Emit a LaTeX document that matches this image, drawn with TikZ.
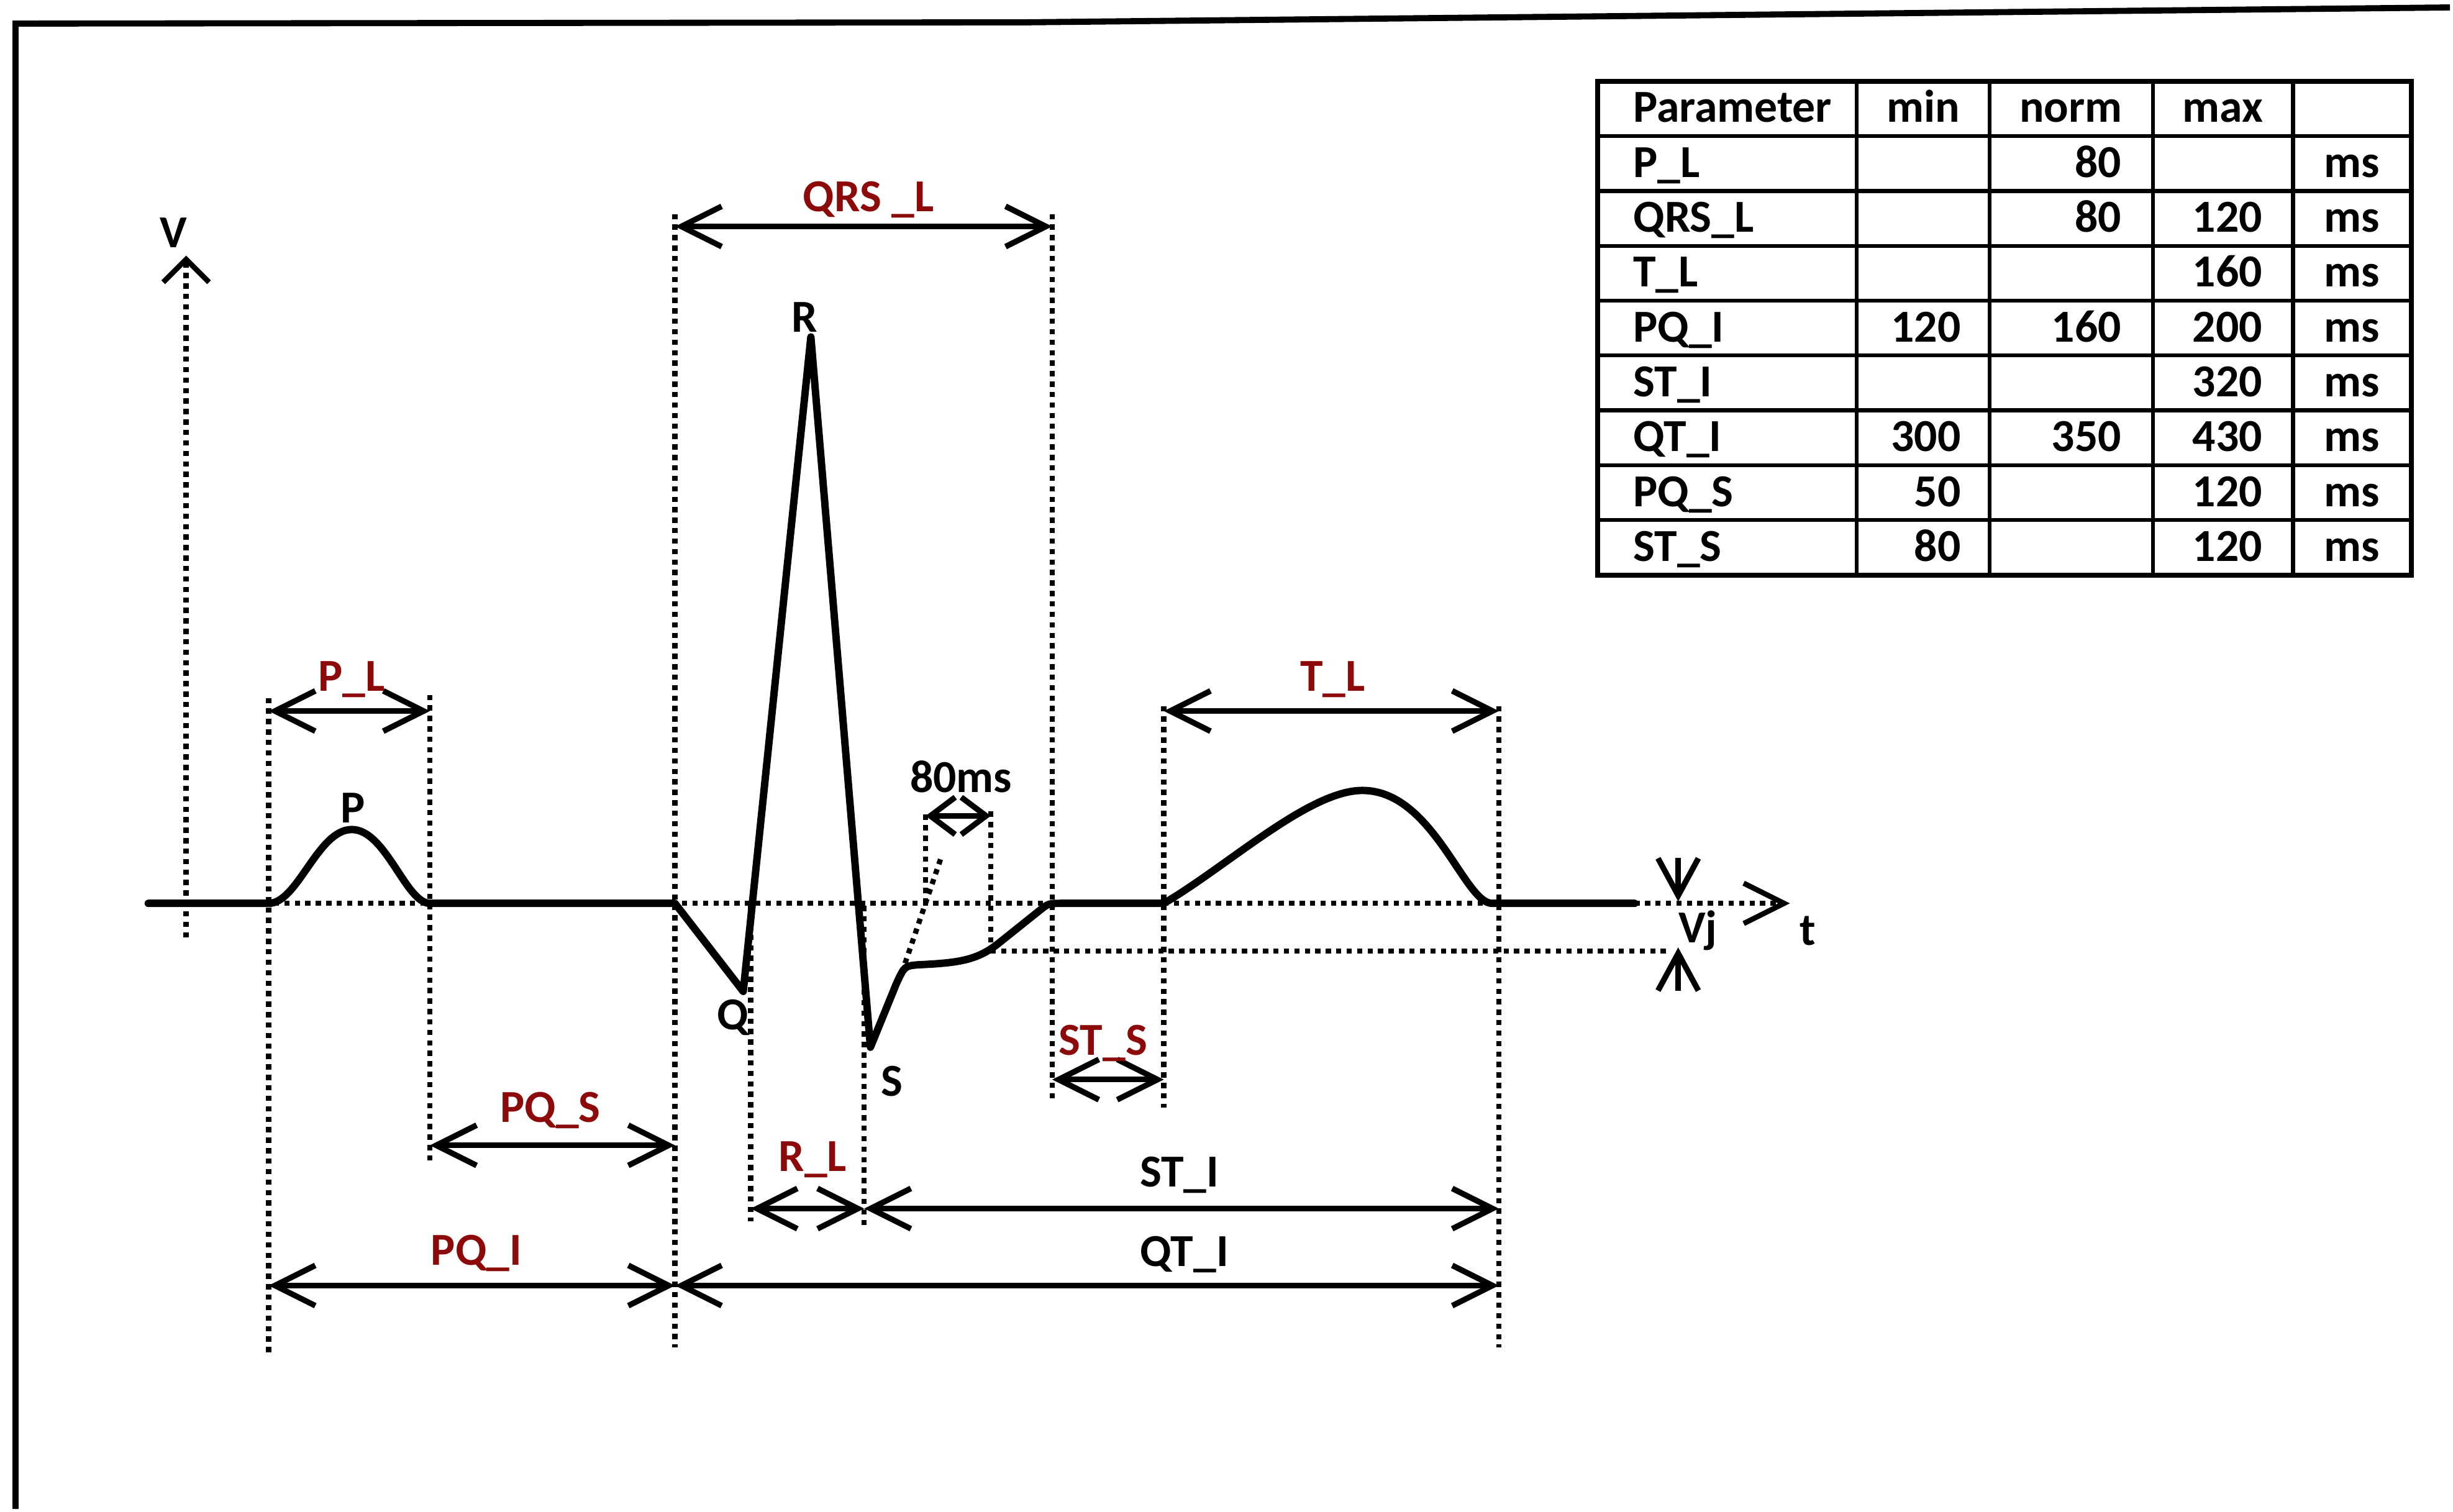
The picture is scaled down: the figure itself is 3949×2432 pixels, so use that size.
\documentclass[tikz,border=0pt]{standalone}
\usepackage{fontspec}
\setmainfont{Carlito}
\usepackage{tikz}
\usetikzlibrary{arrows.meta,calc}
\definecolor{lblred}{HTML}{8C0A0A}
\tikzset{
  pageframe/.style={line width=2.8pt},
  tabline/.style={line width=1.8pt},
  wave/.style={line width=3.4pt,line join=round,line cap=round},
  guide/.style={line width=2.4pt,dash pattern=on 2.4pt off 2.4pt},
  dim/.style={{Straight Barb[length=6.5mm,width=6.5mm]}-{Straight Barb[length=6.5mm,width=6.5mm]},line width=2.6pt},
  dimsmall/.style={{Straight Barb[length=4mm,width=6mm]}-{Straight Barb[length=4mm,width=6mm]},line width=2.6pt},
  axisarr/.style={-{Straight Barb[length=6mm,width=6.5mm]},line width=2.6pt},
  lbl/.style={font=\fontsize{21}{25}\selectfont\bfseries,inner sep=1pt},
  lblr/.style={lbl,text=lblred},
  cell/.style={font=\fontsize{21}{25}\selectfont\bfseries,inner sep=0pt,text height=1.45ex,text depth=.35ex},
}
\begin{document}
\begin{tikzpicture}[x=0.1mm,y=-0.1mm]
  \path[fill=white] (0,0) rectangle (3949,2432);
  \draw[pageframe] (25,2432) -- (25,38) -- (1650,36) -- (3949,12);

  % parameter table
  \foreach \r in {0,...,9} \draw[tabline] (2575,{131+88.4*\r}) -- (3887,{131+88.4*\r});
  \foreach \x in {2575,2993,3207,3470,3696,3887} \draw[tabline] (\x,131) -- (\x,927);
  \draw[line width=2.4pt] (2575,131) rectangle (3887,927);
  \node[cell,anchor=west] (hpar) at (2632,188) {Parameter};
  \node[cell] (hmin) at (3100,188) {min};
  \node[cell] (hnorm) at (3338,188) {norm};
  \node[cell] (hmax) at (3583,188) {max};
  \foreach \p/\mn/\nm/\mx [count=\r] in {P\_L/{}/80/{},QRS\_L/{}/80/120,T\_L/{}/{}/160,
      PQ\_I/120/160/200,ST\_I/{}/{}/320,QT\_I/300/350/430,PQ\_S/50/{}/120,ST\_S/80/{}/120}{
    \node[cell,anchor=west] (par\r) at (2632,{188+88.4*\r}) {\p};
    \node[cell,anchor=east] (min\r) at (3161,{188+88.4*\r}) {\mn};
    \node[cell,anchor=east] (norm\r) at (3420,{188+88.4*\r}) {\nm};
    \node[cell,anchor=east] (max\r) at (3647,{188+88.4*\r}) {\mx};
    \node[cell] (unit\r) at (3791,{188+88.4*\r}) {ms};
  }

  % guide lines
  \foreach \x/\a/\b in {433/1125/2180,693/1120/1870,1088/345/2172,1210/1456/1968,1393/1460/1978,
      1492/1313/1456,1597/1308/1533,1696/345/1775,1876/1138/1785,2416/1138/2172}
    \draw[guide] (\x,\a) -- (\x,\b);
  \draw[guide] (1516,1385) -- (1458,1555);
  \draw[guide] (1597,1533) -- (2690,1533);

  % axes
  \coordinate (vlo) at (300,1511);
  \coordinate (vhi) at (300,412);
  \coordinate (tlo) at (239,1456);
  \coordinate (thi) at (2885,1456);
  \draw[guide,-{Straight Barb[length=3.7mm,width=7.4mm]}] (vlo) -- (vhi);
  \draw[guide,-{Straight Barb[length=6.5mm,width=6.5mm]}] (tlo) -- (thi);
  \node[lbl] (vlab) at (280,375) {V};
  \node[lbl] (tlab) at (2914,1500) {t};

  % ecg curve
  \draw[wave] (239,1456) -- (433,1456) .. controls (480,1456) and (512,1337) .. (567,1337)
    .. controls (622,1337) and (654,1456) .. (693,1456) -- (1088,1456) -- (1198,1598)
    -- (1307,543) -- (1403,1688) -- (1445,1585) .. controls (1458,1557) .. (1480,1555)
    .. controls (1545,1552) and (1575,1548) .. (1610,1520) -- (1675,1468)
    .. controls (1690,1456) .. (1712,1456) -- (1876,1456)
    .. controls (1980,1395) and (2110,1274) .. (2196,1274)
    .. controls (2310,1274) and (2360,1456) .. (2405,1456) -- (2635,1456);
  \node[lbl] (plab) at (569,1302) {P};
  \node[lbl] (rlab) at (1297,511) {R};
  \node[lbl] (qlab) at (1181,1640) {Q};
  \node[lbl] (slab) at (1438,1743) {S};

  % Vj
  \coordinate (vj1) at (2705,1383);
  \coordinate (vj2) at (2705,1453);
  \coordinate (vj3) at (2705,1597);
  \coordinate (vj4) at (2705,1527);
  \draw[axisarr] (vj1) -- (vj2);
  \draw[axisarr] (vj3) -- (vj4);
  \node[lbl] (vjlab) at (2737,1500) {Vj};

  % intervals
  \coordinate (pl1) at (433,1146);  \coordinate (pl2) at (693,1146);
  \coordinate (qrs1) at (1088,365); \coordinate (qrs2) at (1696,365);
  \coordinate (tl1) at (1876,1146); \coordinate (tl2) at (2416,1146);
  \coordinate (ms1) at (1492,1315); \coordinate (ms2) at (1597,1315);
  \coordinate (pqs1) at (693,1846); \coordinate (pqs2) at (1088,1846);
  \coordinate (sts1) at (1696,1740); \coordinate (sts2) at (1876,1740);
  \coordinate (rl1) at (1210,1948); \coordinate (rl2) at (1393,1948);
  \coordinate (sti2) at (2416,1948);
  \coordinate (pqi1) at (433,2072); \coordinate (pqi2) at (1088,2072);
  \coordinate (qti2) at (2416,2072);
  \draw[dim] (pl1) -- (pl2);
  \draw[dim] (qrs1) -- (qrs2);
  \draw[dim] (tl1) -- (tl2);
  \draw[dimsmall] (ms1) -- (ms2);
  \draw[dim] (pqs1) -- (pqs2);
  \draw[dim] (sts1) -- (sts2);
  \draw[dim] (rl1) -- (rl2);
  \draw[dim] (rl2) -- (sti2);
  \draw[dim] (pqi1) -- (pqi2);
  \draw[dim] (pqi2) -- (qti2);
  \node[lblr] (pllab) at (567,1095) {P\_L};
  \node[lblr] (qrslab) at (1400,322) {QRS \_L};
  \node[lblr] (tllab) at (2148,1095) {T\_L};
  \node[lbl] (mslab) at (1549,1252) {80ms};
  \node[lblr] (pqslab) at (887,1790) {PQ\_S};
  \node[lblr] (stslab) at (1778,1682) {ST\_S};
  \node[lblr] (rllab) at (1310,1869) {R\_L};
  \node[lbl] (stilab) at (1901,1894) {ST\_I};
  \node[lblr] (pqilab) at (768,2020) {PQ\_I};
  \node[lbl] (qtilab) at (1909,2022) {QT\_I};
\end{tikzpicture}
\end{document}
